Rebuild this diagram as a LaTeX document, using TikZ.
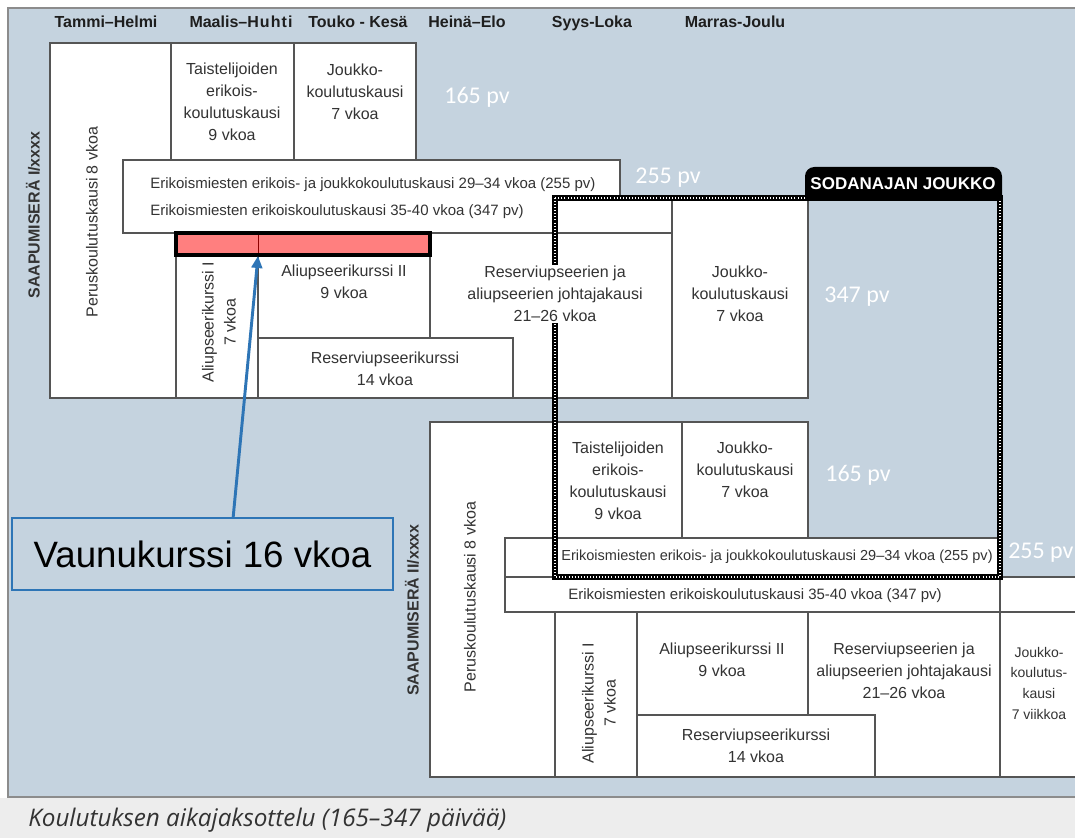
\documentclass[tikz,border=0pt]{standalone}
\usepackage{fontspec}
\usepackage{graphicx}
\setmainfont{Liberation Sans}
\newfontfamily\calib{Carlito}
\newfontfamily\capfont{Open Sans}
\usetikzlibrary{arrows.meta}
\definecolor{bgblue}{HTML}{C5D3DF}
\definecolor{salmon}{HTML}{FF7F7F}
\definecolor{callblue}{HTML}{2E75B6}
\definecolor{boxgray}{HTML}{555555}
\definecolor{txt}{HTML}{333333}
\definecolor{hdrtxt}{HTML}{1E1E1E}
\definecolor{capgray}{HTML}{EDEDED}
\definecolor{framegray}{HTML}{8C8C8C}
\begin{document}
\begin{tikzpicture}[x=0.75pt,y=-0.75pt,
  bx/.style={fill=white,draw=boxgray,line width=0.8pt},
  lbl/.style={align=center,inner sep=0pt,text=txt,font=\fontsize{12}{16.5}\selectfont},
  bandtxt/.style={align=left,inner sep=0pt,text=txt,font=\fontsize{11.25}{20.25}\selectfont},
  hdr/.style={inner sep=0pt,anchor=base,text=hdrtxt,font=\fontsize{12}{14}\selectfont\bfseries},
  vert/.style={inner sep=0pt,text=txt,font=\fontsize{12}{14}\selectfont\bfseries,rotate=90},
  pv/.style={inner sep=0pt,text=white,font=\calib\fontsize{18}{20}\selectfont},
]
\useasboundingbox (0,0) rectangle (1075,838);
% background
\fill[white] (0,0) rectangle (1075,838);
\fill[bgblue] (8,8) rectangle (1075,797);
\fill[capgray] (0,798) rectangle (1075,838);
\draw[framegray,line width=1.2pt] (1075,8) -- (8,8) -- (8,797) -- (1075,797);

% header
\node[hdr] (h1) at (106,28) {Tammi–Helmi};
\node[hdr] (h2) at (241,28) {Maalis–H\kern0.8pt u\kern0.8pt h\kern0.8pt t\kern0.8pt i};
\node[hdr] (h3) at (358,28) {Touko - Kesä};
\node[hdr] (h4) at (467,28) {Heinä–Elo};
\node[hdr] (h5) at (592,28) {Syys-Loka};
\node[hdr] (h6) at (735,28) {Marras-Joulu};

% upper block boxes
\draw[bx] (50,43) rectangle (176,398);
\draw[bx] (171,43) rectangle (294,160);
\draw[bx] (294,43) rectangle (416,160);
\draw[bx] (123,160) rectangle (620,233);
\draw[bx] (430,233) rectangle (672,398);
\draw[bx] (555,200) rectangle (672,233);
\draw[bx] (672,200) rectangle (808,398);
\draw[bx] (176,255) rectangle (258,398);
\draw[bx] (258,255) rectangle (430,338);
\draw[bx] (258,338) rectangle (513,398);
\draw[fill=salmon,draw=black,line width=3pt] (176,233) rectangle (430,255);
\draw[red!55!black,line width=0.6pt] (258,235) -- (258,253);

% lower block boxes
\draw[bx] (430,422) rectangle (555,777);
\draw[bx] (555,422) rectangle (682,538);
\draw[bx] (682,422) rectangle (808,538);
\draw[bx] (505,538) rectangle (1000,577);
\draw[bx] (505,577) rectangle (1000,612);
\draw[bx] (1000,577) rectangle (1085,612);
\draw[bx] (555,612) rectangle (637,777);
\draw[bx] (637,612) rectangle (808,715);
\draw[bx] (808,612) rectangle (1000,777);
\draw[bx] (637,715) rectangle (875,777);
\draw[bx] (1000,612) rectangle (1085,777);

% sodanajan joukko frame
\draw[black,line width=4pt] (555,198) rectangle (1000,577);
\draw[white,line width=0.8pt,dash pattern=on 0.7pt off 1.6pt] (555,198) rectangle (1000,577);
\fill[black] (805,199) [rounded corners=7pt] -- (805,167) -- (1002,167) [sharp corners] -- (1002,199) -- cycle;
\node[inner sep=0pt,text=white,font=\fontsize{12.75}{14}\selectfont\bfseries] (tab) at (903,184) {SODANAJAN JOUKKO};

% upper texts
\node[vert] (s1) at (33,215) {SAAPUMISERÄ I/xxxx};
\node[lbl,rotate=90] (p1) at (92,222) {Peruskoulutuskausi 8 vkoa};
\node[lbl] (t1) at (232,102) {Taistelijoiden\\erikois-\\koulutuskausi\\9 vkoa};
\node[lbl] (j1) at (355,92) {Joukko-\\koulutuskausi\\7 vkoa};
\node[bandtxt,anchor=west] (b1) at (150,198) {Erikoismiesten erikois- ja joukkokoulutuskausi 29–34 vkoa (255 pv)\\Erikoismiesten erikoiskoulutuskausi 35-40 vkoa (347 pv)};
\node[lbl,rotate=90] (a1) at (219,322) {Aliupseerikurssi I\\7 vkoa};
\node[lbl] (a2) at (344,282) {Aliupseerikurssi II\\9 vkoa};
\node[lbl] (rk) at (385,369) {Reserviupseerikurssi\\14 vkoa};
\node[lbl,fill=white,inner sep=1pt] (rj) at (555,294) {Reserviupseerien ja\\aliupseerien johtajakausi\\21–26 vkoa};
\node[lbl] (jk) at (740,294) {Joukko-\\koulutuskausi\\7 vkoa};

% lower texts
\node[vert] (s2) at (412,610) {SAAPUMISERÄ II/xxxx};
\node[lbl,rotate=90] (p2) at (470,597) {Peruskoulutuskausi 8 vkoa};
\node[lbl] (t2) at (618,481) {Taistelijoiden\\erikois-\\koulutuskausi\\9 vkoa};
\node[lbl] (j2) at (745,470) {Joukko-\\koulutuskausi\\7 vkoa};
\node[inner sep=0pt,text=txt,font=\fontsize{10.9}{13}\selectfont] (b2a) at (777,557) {Erikoismiesten erikois- ja joukkokoulutuskausi 29–34 vkoa (255 pv)};
\node[inner sep=0pt,text=txt,font=\fontsize{11.25}{13}\selectfont] (b2b) at (755,596) {Erikoismiesten erikoiskoulutuskausi 35-40 vkoa (347 pv)};
\node[lbl,rotate=90] (a1b) at (599,703) {Aliupseerikurssi I\\7 vkoa};
\node[lbl] (a2b) at (722,660) {Aliupseerikurssi II\\9 vkoa};
\node[lbl] (rkb) at (756,746) {Reserviupseerikurssi\\14 vkoa};
\node[lbl] (rjb) at (904,671) {Reserviupseerien ja\\aliupseerien johtajakausi\\21–26 vkoa};
\node[lbl,font=\fontsize{10.5}{15.5}\selectfont] (jk2) at (1039,683) {Joukko-\\koulutus-\\kausi\\7 viikkoa};

% day counts
\node[pv] (d1) at (477,97) {165 pv};
\node[pv] (d2) at (668,178) {255 pv};
\node[pv] (d3) at (857,297) {347 pv};
\node[pv] (d4) at (858,475) {165 pv};
\node[pv,anchor=west] (d5) at (1008,553) {255 pv};

% callout
\coordinate (tip) at (258,256);
\node[draw=callblue,line width=1.2pt,fill=bgblue,minimum width=285.75pt,minimum height=54pt,inner sep=0pt,font=\fontsize{27.5}{30}\selectfont] (call) at (202.5,554) {Vaunukurssi 16 vkoa};
\draw[callblue,line width=2.2pt,-{Triangle[length=9pt,width=8pt]}] ([xshift=23pt]call.north) -- (tip);

% caption
\node[anchor=west,inner sep=0pt,text=txt,font=\capfont\itshape\fontsize{18.2}{21}\selectfont] (cap) at (28,820) {Koulutuksen aikajaksottelu (165–347 päivää)};
\end{tikzpicture}
\end{document}
